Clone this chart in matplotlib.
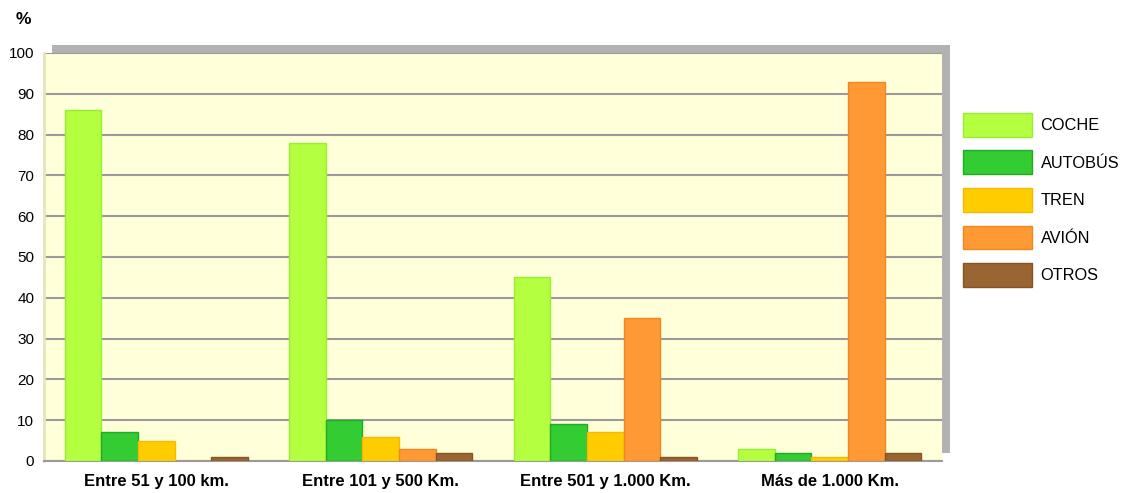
import numpy as np
import matplotlib.pyplot as plt
from matplotlib.patches import Rectangle

plt.rcParams['font.family'] = ['Liberation Sans', 'DejaVu Sans']

categories = ["Entre 51 y 100 km.", "Entre 101 y 500 Km.", "Entre 501 y 1.000 Km.", "Más de 1.000 Km."]
series = ["COCHE", "AUTOBÚS", "TREN", "AVIÓN", "OTROS"]
coche = [86, 78, 45, 3]
autobus = [7, 10, 9, 2]
tren = [5, 6, 7, 1]
avion = [0, 3, 35, 93]
otros = [1, 2, 1, 2]
values = [coche, autobus, tren, avion, otros]

colors = ["#b3ff40", "#33cc33", "#ffcc00", "#ff9933", "#996633"]
edges = ["#99ee33", "#22aa22", "#f5bb00", "#ee8822", "#885522"]

W, H = 1126, 493
fig = plt.figure(figsize=(W / 100, H / 100), dpi=100)

# plot area in pixels
x0, x1, ytop, ybot = 44, 942, 53, 461
ax = fig.add_axes([x0 / W, 1 - ybot / H, (x1 - x0) / W, (ybot - ytop) / H])

# drop shadow behind the plot area
off = 8
fig.patches.append(Rectangle(((x0 + off) / W, 1 - (ybot - off) / H),
                             (x1 - x0) / W, (ybot - ytop) / H,
                             transform=fig.transFigure, facecolor="#b2b2b2",
                             edgecolor="none", zorder=0))

ax.set_facecolor("#ffffd9")
ax.set_zorder(1)

x = np.arange(len(categories))
bw = 0.163
for i, (name, vals) in enumerate(zip(series, values)):
    pos = x + (i - 2) * bw
    ax.bar(pos, vals, width=bw, color=colors[i], edgecolor=edges[i],
           linewidth=1, label=name, zorder=3)

ax.set_xlim(-0.5, len(categories) - 0.5)
ax.set_ylim(0, 100)
ax.set_yticks(range(0, 101, 10))
ax.yaxis.grid(True, color="#9a9a9a", linewidth=1.5, zorder=1)
ax.set_axisbelow(True)
ax.tick_params(axis='y', length=0, pad=7, labelsize=11)
ax.tick_params(axis='x', length=0, pad=18)
ax.set_xticks(x)
ax.set_xticklabels(categories, fontsize=12, fontweight='bold', va='baseline')

for s in ["top", "right"]:
    ax.spines[s].set_visible(False)
ax.spines["left"].set_color("#e6e6b8")
ax.spines["left"].set_linewidth(2)
ax.spines["bottom"].set_color("#9a9a9a")
ax.spines["bottom"].set_linewidth(1.5)

fig.text(16 / W, 1 - 20 / H, "%", fontsize=12.5, fontweight='bold', va='center')

ax.legend(loc="upper left", bbox_to_anchor=(948 / W, 1 - 98 / H),
          bbox_transform=fig.transFigure, frameon=False, fontsize=11.8,
          handlelength=4.25, handleheight=1.86, labelspacing=0.84,
          handletextpad=0.5, borderpad=0.4)

fig.savefig("out.png", dpi=100)
